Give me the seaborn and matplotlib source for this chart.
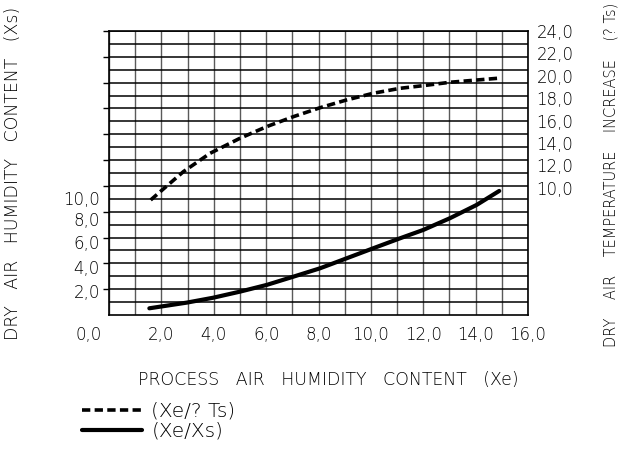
import matplotlib
matplotlib.use('Agg')
import matplotlib.pyplot as plt
import matplotlib.transforms as mtransforms
import seaborn as sns

# process air humidity content (Xe)
solid_x = [1.54, 2.97, 3.98, 5.0, 6.02, 7.04, 8.06, 9.07, 10.09, 11.11, 12.0, 13.02, 14.04, 14.9]
# dry air humidity content (Xs), in grid units of the left axis
solid_y = [0.52, 0.96, 1.34, 1.81, 2.33, 2.97, 3.62, 4.39, 5.17, 5.94, 6.59, 7.5, 8.53, 9.61]

dashed_x = [1.59, 2.84, 3.86, 5.0, 6.02, 7.04, 8.06, 9.07, 10.09, 11.11, 12.0, 13.02, 14.04, 14.86]
# dry air temperature increase (? Ts), right axis
dashed_y = [8.91, 11.44, 13.08, 14.42, 15.46, 16.35, 17.15, 17.84, 18.44, 18.88, 19.12, 19.42, 19.62, 19.78]

x_ticks = [0, 2, 4, 6, 8, 10, 12, 14, 16]
x_labels = ['0,0', '2,0', '4,0', '6,0', '8,0', '10,0', '12,0', '14,0', '16,0']
left_labels = ['2,0', '4,0', '6,0', '8,0', '10,0']
left_label_pos = [1.7, 3.55, 5.5, 7.25, 8.9]   # the drawing puts them a bit below the ticks
right_ticks = [10, 12, 14, 16, 18, 20, 22, 24]
right_labels = ['10,0', '12,0', '14,0', '16,0', '18,0', '20,0', '22,0', '24,0']

sns.set_style('white')
plt.rcParams['font.family'] = ['DejaVu Sans']
plt.rcParams['font.size'] = 12
plt.rcParams['font.weight'] = 'light'
plt.rcParams['axes.labelweight'] = 'light'
for key in ('text.color', 'axes.labelcolor', 'xtick.color', 'ytick.color'):
    plt.rcParams[key] = 'black'

fig = plt.figure(figsize=(6.24, 4.59), dpi=100)
ax = fig.add_axes([0.1747, 0.3137, 0.6715, 0.6188])

ax.set_xlim(0, 16)
ax.set_ylim(0, 22)
ax.set_xticks(x_ticks)
ax.set_xticklabels(x_labels, fontsize=12)
ax.set_xticks(range(1, 16, 2), minor=True)
ax.set_yticks(range(2, 23, 2))
ax.set_yticklabels([])
ax.set_yticks(range(1, 22, 2), minor=True)
ax.tick_params(axis='both', which='major', direction='out', length=4.5, width=1, color='black', pad=3.5)
ax.tick_params(axis='both', which='minor', length=0)
ax.grid(True, which='both', axis='x', color='#5a5a5a', linewidth=1.0)
ax.grid(True, which='both', axis='y', color='black', linewidth=1.1)
for s in ax.spines.values():
    s.set_color('black')
    s.set_linewidth(1.2)

# move the "0,0" label left as in the drawing
lbl0 = ax.get_xticklabels()[0]
lbl0.set_transform(lbl0.get_transform() + mtransforms.ScaledTranslation(-20 / 100, 0, fig.dpi_scale_trans))

ytrans = mtransforms.blended_transform_factory(ax.transAxes, ax.transData)
for lab, pos in zip(left_labels, left_label_pos):
    ax.text(-0.022, pos, lab, transform=ytrans, ha='right', va='center', fontsize=12)

sns.lineplot(x=solid_x, y=solid_y, ax=ax, color='black', linewidth=3.0,
             label='(Xe/Xs)')

ax2 = ax.twinx()
ax2.set_ylim(-1.36, 24)
ax2.set_yticks(right_ticks)
ax2.set_yticklabels(right_labels, fontsize=12)
ax2.tick_params(axis='y', length=0, pad=6)
ax2.grid(False)
for s in ax2.spines.values():
    s.set_visible(False)
sns.lineplot(x=dashed_x, y=dashed_y, ax=ax2, color='black', linewidth=2.6,
             linestyle=(0, (2.3, 1.2)), label='(Xe/? Ts)')

for a in (ax, ax2):
    if a.get_legend() is not None:
        a.get_legend().remove()

ax.set_xlabel('PROCESS   AIR   HUMIDITY   CONTENT   (Xe)', fontsize=12.5)
ax.xaxis.set_label_coords(0.523, -0.197)
ax.set_ylabel('DRY   AIR   HUMIDITY   CONTENT   (Xs)', fontsize=12.5)
ax.yaxis.set_label_coords(-0.2076, 0.5)
ax2.set_ylabel('DRY    AIR    TEMPERATURE    INCREASE    (? Ts)', fontsize=10.5, rotation=90)
ax2.yaxis.set_label_coords(1.179, 0.493)

h1, l1 = ax.get_legend_handles_labels()
h2, l2 = ax2.get_legend_handles_labels()
fig.legend(h2 + h1, l2 + l1, loc='upper left', bbox_to_anchor=(82 / 624, 0.125),
           frameon=False, fontsize=14.5, handlelength=3.0, handletextpad=0.45,
           labelspacing=0.05, borderpad=0, borderaxespad=0)

fig.savefig('out.png', dpi=100)
plt.close(fig)
